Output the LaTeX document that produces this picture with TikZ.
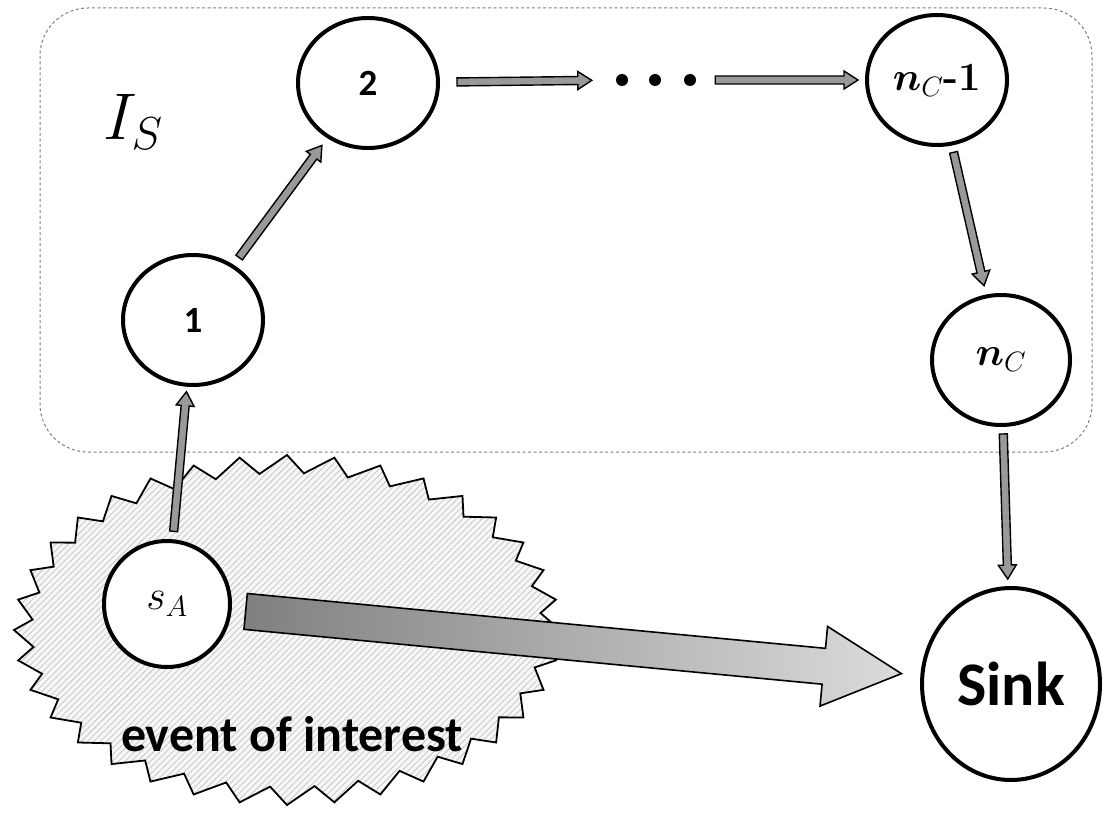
\RequirePackage{fix-cm}
\documentclass[tikz,border=0pt]{standalone}
\usepackage{fontspec}
\usepackage{amsmath,bm}
\newfontfamily\calib{Carlito}
\usetikzlibrary{shapes.geometric,calc,patterns.meta}
\definecolor{arrgray}{HTML}{999999}
\definecolor{hatchgray}{HTML}{CACACA}
\definecolor{burstfill}{HTML}{F7F7F7}
\definecolor{boxgray}{HTML}{808080}
\newcommand\blockarr[8][]{%
  \path (#2) -- (#3) coordinate[pos=0] (ba-s) coordinate[pos=1] (ba-e);
  \draw[#1] let \p1=(ba-s), \p2=(ba-e), \n1={atan2(\y2-\y1,\x2-\x1)} in
    ($(\p1)+(\n1:#4)+(\n1+90:#6)$) --
    ($(\p2)+(\n1:-#5-#8)+(\n1+90:#6)$) --
    ($(\p2)+(\n1:-#5-#8)+(\n1+90:#7)$) --
    ($(\p2)+(\n1:-#5)$) --
    ($(\p2)+(\n1:-#5-#8)+(\n1-90:#7)$) --
    ($(\p2)+(\n1:-#5-#8)+(\n1-90:#6)$) --
    ($(\p1)+(\n1:#4)+(\n1-90:#6)$) -- cycle;}
\tikzset{
  netnode/.style={ellipse, draw=black, line width=4pt, fill=white, inner sep=0pt},
  dotn/.style={circle, fill=black, minimum size=12pt, inner sep=0pt},
  smallarr/.style={fill=arrgray, draw=black, line width=1.4pt, line join=miter},
  bigarr/.style={left color=gray!100!black, right color=gray!28, draw=black, line width=1.6pt, line join=miter},
  sanslbl/.style={font={\calib\bfseries\fontsize{37}{40}\selectfont}},
}
\begin{document}
\begin{tikzpicture}[x=1pt,y=-1pt]
\useasboundingbox (0,0) rectangle (1105,829);
% event of interest burst (sawtooth outline)
\draw[line width=1.8pt, line join=miter, preaction={fill=burstfill},
      pattern={Lines[angle=45,distance=4.5pt,line width=0.9pt]}, pattern color=hatchgray]
  plot[samples at={0,...,71}]
   ({287+ifthenelse(mod(\x,2)==0,273,255)*cos(90-floor(\x/2)*10-mod(\x,2)*3.8)},
    {630-ifthenelse(mod(\x,2)==0,175,157)*sin(90-floor(\x/2)*10-mod(\x,2)*3.8)}) -- cycle;
% dashed region I_S
\draw[boxgray, line width=1pt, dash pattern=on 3pt off 2.5pt, rounded corners=48pt]
  (40,8) rectangle (1092,452);
\node (IS) at (133,122) {\fontsize{66}{70}\selectfont$I_S$};
% nodes
\node[netnode, minimum width=140pt, minimum height=130pt, sanslbl] (n1) at (193,320) {1};
\node[netnode, minimum width=140pt, minimum height=130pt, sanslbl] (n2) at (368,83) {2};
\node[netnode, minimum width=140pt, minimum height=130pt] (nCm) at (937,80)
  {\fontsize{40}{44}\selectfont$\bm{n}_{C}$\textbf{-1}};
\node[netnode, minimum width=138pt, minimum height=130pt] (nC) at (1001,360)
  {\fontsize{40}{44}\selectfont$\bm{n}_{C}$};
\node[netnode, minimum width=126pt, minimum height=126pt] (sA) at (167,604)
  {\fontsize{42}{46}\selectfont$s_A$};
\node[netnode, minimum width=178pt, minimum height=192pt,
      font={\calib\bfseries\fontsize{62}{66}\selectfont}] (sink) at (1011,684) {Sink};
\node[dotn] (d1) at (622,80) {};
\node[dotn] (d2) at (655,80) {};
\node[dotn] (d3) at (690,80) {};
\node[font={\calib\bfseries\fontsize{50}{56}\selectfont}] (event) at (292,734) {event of interest};
% connectors
\blockarr[smallarr]{sA}{n1}{8pt}{5pt}{4pt}{9pt}{14pt}
\blockarr[smallarr]{n1}{n2}{9pt}{9pt}{4pt}{9pt}{14pt}
\blockarr[smallarr]{n2}{d1}{17pt}{24pt}{4pt}{9pt}{14pt}
\blockarr[smallarr]{d3}{nCm}{19pt}{7pt}{4pt}{9pt}{14pt}
\blockarr[smallarr]{nCm}{nC}{7pt}{9pt}{4pt}{9pt}{14pt}
\blockarr[smallarr]{nC}{sink}{7pt}{7pt}{4pt}{9pt}{14pt}
\blockarr[bigarr]{sA}{sink}{14pt}{19pt}{18pt}{40pt}{78pt}
\end{tikzpicture}
\end{document}
